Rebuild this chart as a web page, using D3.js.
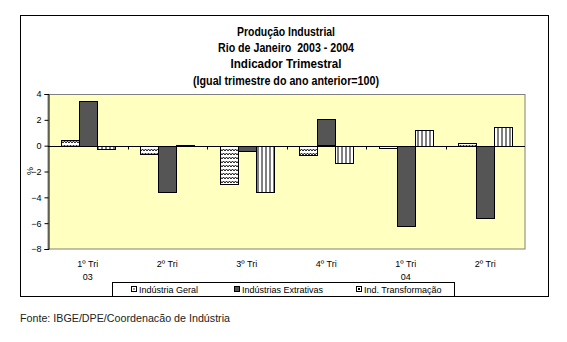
<!DOCTYPE html>
<html><head><meta charset="utf-8">
<script src="https://cdn.jsdelivr.net/npm/d3@7"></script>
<style>body{margin:0;background:#fff}svg{display:block}text{font-family:"Liberation Sans",Arial,sans-serif;white-space:pre}</style>
</head><body>
<svg id="c" width="567" height="342"></svg>
<script>
const categories = ["1º Tri", "2º Tri", "3º Tri", "4º Tri", "1º Tri", "2º Tri"];
const yearLabels = ["03", "", "", "", "04", ""];
const seriesNames = ["Indústria Geral", "Indústrias Extrativas", "Ind. Transformação"];
const geral = [0.45, -0.65, -2.95, -0.7, -0.15, 0.2];
const extrativas = [3.45, -3.6, -0.4, 2.05, -6.2, -5.6];
const transformacao = [-0.25, 0.05, -3.6, -1.35, 1.2, 1.45];
const yTicks = [4, 2, 0, -2, -4, -6, -8];
const titleLines = ["Produção Industrial", "Rio de Janeiro  2003 - 2004", "Indicador Trimestral", "(Igual trimestre do ano anterior=100)"];
const titleWidths = [98, 136, 111, 186];

const svg = d3.select("#c");
const defs = svg.append("defs");
const zz = defs.append("pattern").attr("id","zig").attr("patternUnits","userSpaceOnUse").attr("width",6).attr("height",4);
zz.append("rect").attr("width",6).attr("height",4).attr("fill","#fff");
zz.append("path").attr("d","M0,3 L1.5,1 L3,3 L4.5,1 L6,3").attr("fill","none").attr("stroke","#000").attr("stroke-width",0.9);
const vs = defs.append("pattern").attr("id","vst").attr("patternUnits","userSpaceOnUse").attr("width",4).attr("height",4);
vs.append("rect").attr("width",4).attr("height",4).attr("fill","#fff");
vs.append("line").attr("x1",2).attr("x2",2).attr("y1",0).attr("y2",4).attr("stroke","#000").attr("stroke-width",1);
const fills = ["url(#zig)", "#555555", "url(#vst)"];
const series = [geral, extrativas, transformacao];

svg.append("rect").attr("x",20.5).attr("y",15.5).attr("width",528).attr("height",281).attr("fill","#fff").attr("stroke","#000").attr("stroke-width",1);

svg.append("g").selectAll("text").data(titleLines).join("text")
  .attr("x",286).attr("y",(d,i)=>36+i*16.2).attr("text-anchor","middle")
  .attr("font-size",12).attr("font-weight","bold").attr("fill","#000")
  .attr("textLength",(d,i)=>titleWidths[i]).attr("lengthAdjust","spacingAndGlyphs").text(d=>d);

const x0 = d3.scaleBand().domain(d3.range(categories.length)).range([48,525]).paddingInner(0).paddingOuter(0);
const x1 = d3.scaleBand().domain([0,1,2]).range([0,54]);
const y = d3.scaleLinear().domain([-8,4]).range([249,94]);

svg.append("rect").attr("x",48).attr("y",94.5).attr("width",477).attr("height",154.5).attr("fill","#FFFFC0").attr("stroke","#808080").attr("stroke-width",1);

const g = svg.append("g");
categories.forEach((c,i)=>{
  const cx = x0(i) + x0.bandwidth()/2 - 27;
  series.forEach((s,k)=>{
    const v = s[i];
    g.append("rect")
      .attr("x", Math.round(cx + x1(k)) + 0.5)
      .attr("y", Math.round(Math.min(y(v), y(0))) + 0.5)
      .attr("width", Math.round(x1.bandwidth()))
      .attr("height", Math.max(1, Math.round(Math.abs(y(v)-y(0)))))
      .attr("fill", fills[k]).attr("stroke","#000").attr("stroke-width",1);
  });
});

const y0 = Math.round(y(0)) + 0.5;
svg.append("line").attr("x1",48).attr("x2",525).attr("y1",y0).attr("y2",y0).attr("stroke","#000");
svg.append("g").selectAll("line").data(d3.range(1,categories.length)).join("line")
  .attr("x1",d=>Math.round(x0(d))+0.5).attr("x2",d=>Math.round(x0(d))+0.5)
  .attr("y1",y0).attr("y2",y0+3).attr("stroke","#000");

const yAxis = d3.axisLeft(y).tickValues(yTicks).tickSize(4).tickPadding(3).tickFormat(d3.format("d"));
const ya = svg.append("g").attr("transform","translate(48.5,0)").call(yAxis);
ya.select(".domain").attr("stroke","#000");
ya.selectAll("text").attr("font-size",9).attr("fill","#000").attr("font-family","Liberation Sans, Arial, sans-serif");
svg.append("text").attr("transform","translate(33,171) rotate(-90)").attr("text-anchor","middle").attr("font-size",9).text("%");

svg.append("g").selectAll("text").data(categories).join("text")
  .attr("x",(d,i)=>x0(i)+x0.bandwidth()/2).attr("y",267).attr("text-anchor","middle").attr("font-size",9).text(d=>d);
svg.append("g").selectAll("text").data(yearLabels).join("text")
  .attr("x",(d,i)=>x0(i)+x0.bandwidth()/2).attr("y",280).attr("text-anchor","middle").attr("font-size",9).text(d=>d);

svg.append("rect").attr("x",112.5).attr("y",282.5).attr("width",342).attr("height",14).attr("fill","#fff").attr("stroke","#000");
const legX = [131, 234, 356];
const lg = svg.append("g");
seriesNames.forEach((n,k)=>{
  lg.append("rect").attr("x",legX[k]+0.5).attr("y",286.5).attr("width",5).attr("height",5).attr("fill",k===1?"#555":"#fff").attr("stroke","#000");
  if(k!==1){
    lg.append("rect").attr("x",legX[k]+2).attr("y",288).attr("width",2).attr("height",2).attr("fill",k===0?"#999":"#000");
  }
  lg.append("text").attr("x",legX[k]+8).attr("y",293).attr("font-size",9).text(n);
});

svg.append("text").attr("x",20).attr("y",322).attr("font-size",11).attr("fill","#222")
  .attr("textLength",210).attr("lengthAdjust","spacingAndGlyphs").text("Fonte: IBGE/DPE/Coordenacão de Indústria");
</script>
</body></html>
